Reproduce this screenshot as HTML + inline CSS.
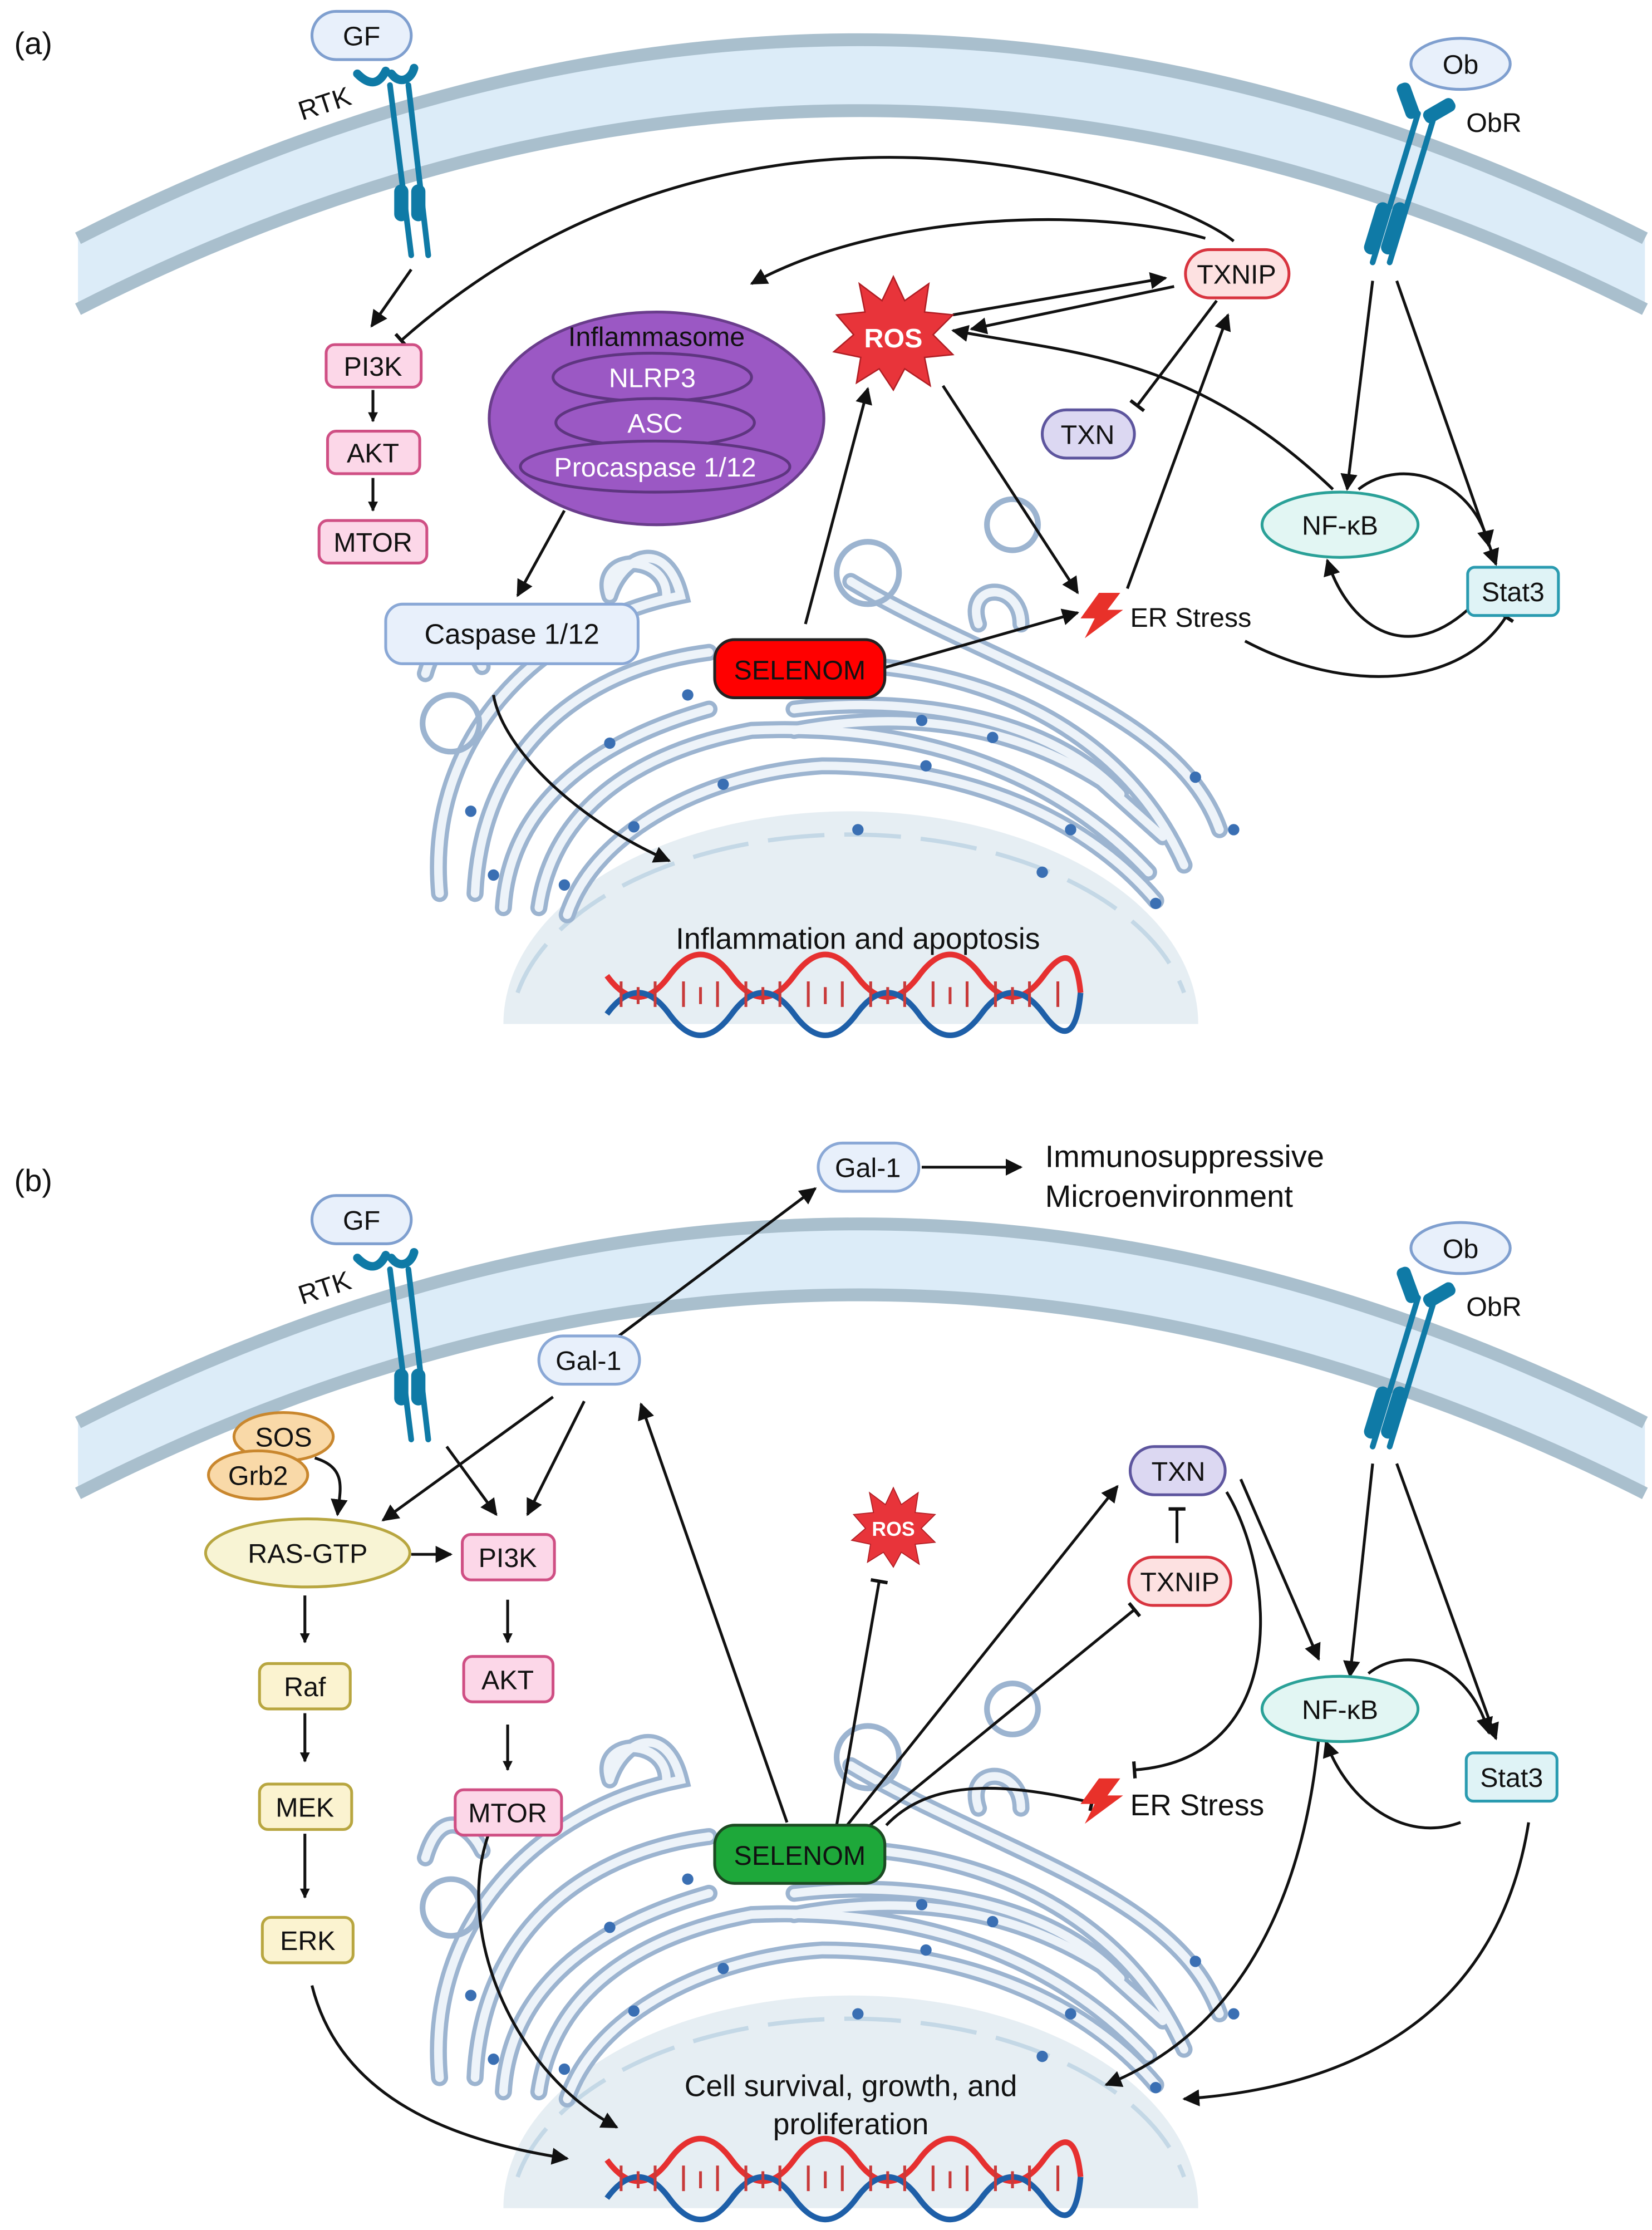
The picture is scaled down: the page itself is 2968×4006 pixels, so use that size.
<!DOCTYPE html>
<html><head><meta charset="utf-8"><style>
html,body{margin:0;padding:0;background:#fff}
svg{display:block}
text{font-family:"Liberation Sans",sans-serif;fill:#111}
</style></head><body>
<svg width="2968" height="4006" viewBox="0 0 1165 1572.4" xmlns="http://www.w3.org/2000/svg">
<defs>
<marker id="ar" viewBox="0 0 10 10" refX="9" refY="5" markerWidth="7" markerHeight="7" orient="auto-start-reverse" markerUnits="userSpaceOnUse"><path d="M0,0 L10,5 L0,10 z" fill="#111"/></marker>
<marker id="ar2" viewBox="0 0 10 10" refX="9" refY="5" markerWidth="12" markerHeight="12" orient="auto" markerUnits="userSpaceOnUse"><path d="M0,0 L10,5 L0,10 z" fill="#111"/></marker>
<marker id="tb" viewBox="0 0 10 10" refX="5" refY="5" markerWidth="12" markerHeight="12" orient="auto" markerUnits="userSpaceOnUse"><path d="M5,0 L5,10" stroke="#111" stroke-width="2"/></marker>
<g id="cell">
 <path d="M55,168 Q605,-112 1160,168 L1160,218 Q605,-62 55,218 Z" fill="#dcecf8"/>
 <path d="M55,168 Q605,-112 1160,168" fill="none" stroke="#a9bfcd" stroke-width="9"/>
 <path d="M55,218 Q605,-62 1160,218" fill="none" stroke="#a9bfcd" stroke-width="9"/>
 <path d="M355,722 A245,150 0 0 1 845,722 Z" fill="#e6eef3"/>
 <path d="M365,700 A240,140 0 0 1 835,700" fill="none" stroke="#c4d8e6" stroke-width="3" stroke-dasharray="40,14"/>
 <g fill="none" stroke-linecap="round">
  <g stroke="#9cb4d0" stroke-width="12">
   <path d="M310,630 C300,520 380,440 480,420 C470,380 440,390 430,420 M600,410 C700,470 830,500 860,585"/>
   <path d="M335,630 C340,520 420,470 500,460 M620,470 C720,480 800,530 835,610"/>
   <path d="M355,640 C360,560 430,520 500,500 M560,500 C640,490 740,505 790,560"/>
   <path d="M380,640 C390,570 450,530 530,515 C640,510 740,540 810,615"/>
   <path d="M400,645 C420,585 500,545 580,540 C670,540 760,570 815,635"/>
   <path d="M560,515 C640,500 720,510 790,560 M770,545 L820,590"/>
   <path d="M430,420 C420,390 470,390 470,420 M690,440 C680,410 720,410 720,440"/>
   <path d="M300,475 C310,440 330,450 340,470"/>
  </g>
  <g stroke="#edf3f9" stroke-width="6">
   <path d="M310,630 C300,520 380,440 480,420 C470,380 440,390 430,420 M600,410 C700,470 830,500 860,585"/>
   <path d="M335,630 C340,520 420,470 500,460 M620,470 C720,480 800,530 835,610"/>
   <path d="M355,640 C360,560 430,520 500,500 M560,500 C640,490 740,505 790,560"/>
   <path d="M380,640 C390,570 450,530 530,515 C640,510 740,540 810,615"/>
   <path d="M400,645 C420,585 500,545 580,540 C670,540 760,570 815,635"/>
   <path d="M560,515 C640,500 720,510 790,560 M770,545 L820,590"/>
   <path d="M430,420 C420,390 470,390 470,420 M690,440 C680,410 720,410 720,440"/>
   <path d="M300,475 C310,440 330,450 340,470"/>
  </g>
  <g stroke="#9cb4d0" stroke-width="4"><circle cx="318" cy="510" r="20"/><circle cx="612" cy="404" r="22"/><circle cx="714" cy="370" r="18"/></g>
 </g>
 <g fill="#3a6fb3"><circle cx="485" cy="490" r="4"/><circle cx="510" cy="553" r="4"/><circle cx="447" cy="583" r="4"/><circle cx="430" cy="524" r="4"/><circle cx="398" cy="624" r="4"/><circle cx="348" cy="617" r="4"/><circle cx="605" cy="585" r="4"/><circle cx="653" cy="540" r="4"/><circle cx="700" cy="520" r="4"/><circle cx="735" cy="615" r="4"/><circle cx="755" cy="585" r="4"/><circle cx="843" cy="548" r="4"/><circle cx="870" cy="585" r="4"/><circle cx="815" cy="637" r="4"/><circle cx="332" cy="572" r="4"/><circle cx="650" cy="508" r="4"/></g>
 <g id="dna">
  <path d="M428,688 Q450,718 472,688 T516,688 T560,688 T604,688 T648,688 T692,688 T736,688 T762,700" fill="none" stroke="#e63030" stroke-width="4"/>
  <path d="M428,715 Q450,685 472,715 T516,715 T560,715 T604,715 T648,715 T692,715 T736,715 T762,700" fill="none" stroke="#1e5fa8" stroke-width="4"/>
  <path d="M438,692v18M450,696v12M462,692v18M482,692v18M494,696v12M506,692v18M526,692v18M538,696v12M550,692v18M570,692v18M582,696v12M594,692v18M614,692v18M626,696v12M638,692v18M658,692v18M670,696v12M682,692v18M702,692v18M714,696v12M726,692v18M746,692v18" stroke="#c83a3a" stroke-width="2"/>
 </g>
 <g id="rtk" fill="none" stroke="#0f7aa6" stroke-linecap="round">
  <path d="M275,60 L290,180 M288,60 L302,180" stroke-width="4"/>
  <path d="M252,52 C262,62 268,58 272,50 M276,52 C282,60 290,56 292,48" stroke-width="6"/>
  <rect x="278" y="130" width="10" height="26" rx="5" fill="#0f7aa6" stroke="none"/><rect x="290" y="130" width="10" height="26" rx="5" fill="#0f7aa6" stroke="none"/>
 </g>
 <g id="obr" fill="none" stroke="#0f7aa6" stroke-linecap="round">
  <path d="M1000,80 L968,185 M1012,80 L980,185" stroke-width="4"/>
  <rect x="988" y="58" width="10" height="26" rx="4" fill="#0f7aa6" stroke="none" transform="rotate(-20 993 71)"/>
  <rect x="1010" y="66" width="10" height="24" rx="4" fill="#0f7aa6" stroke="none" transform="rotate(60 1015 78)"/>
  <rect x="966" y="142" width="10" height="38" rx="5" fill="#0f7aa6" stroke="none" transform="rotate(17 971 161)"/><rect x="978" y="142" width="10" height="38" rx="5" fill="#0f7aa6" stroke="none" transform="rotate(17 983 161)"/>
 </g>
</g>
<g id="ers"><path d="M775,418 L790,418 L781,430 L792,430 L765,450 L772,436 L762,436 Z" fill="#e8312a"/></g>
</defs>

<!-- PANEL A -->
<text x="10" y="38" font-size="22">(a)</text>
<use href="#cell"/>
<text x="213" y="85" font-size="19" transform="rotate(-18 213 85)">RTK</text>
<rect x="220" y="8" width="70" height="34" rx="17" fill="#e8f0fb" stroke="#7f9fcf" stroke-width="2"/><text x="255" y="32" font-size="19" text-anchor="middle">GF</text>
<ellipse cx="1030" cy="45" rx="35" ry="18" fill="#e8f0fb" stroke="#7f9fcf" stroke-width="2"/><text x="1030" y="52" font-size="19" text-anchor="middle">Ob</text>
<text x="1034" y="93" font-size="19">ObR</text>

<g stroke="#111" stroke-width="2" fill="none">
 <path d="M290,190 L262,230" marker-end="url(#ar2)"/>
 <path d="M870,170 C820,130 520,30 283,240" marker-end="url(#tb)"/>
 <path d="M263,275 L263,297" marker-end="url(#ar)"/>
 <path d="M263,337 L263,360" marker-end="url(#ar)"/>
 <path d="M850,168 C770,145 620,150 530,200" marker-end="url(#ar2)"/>
 <path d="M672,222 L822,196" marker-end="url(#ar2)"/>
 <path d="M828,202 L685,232" marker-end="url(#ar2)"/>
 <path d="M858,212 L802,286" marker-end="url(#tb)"/>
 <path d="M940,345 C840,250 760,250 672,233" marker-end="url(#ar2)"/>
 <path d="M398,360 L365,420" marker-end="url(#ar2)"/>
 <path d="M568,440 L612,274" marker-end="url(#ar2)"/>
 <path d="M665,272 L760,418" marker-end="url(#ar2)"/>
 <path d="M623,471 L760,432" marker-end="url(#ar2)"/>
 <path d="M795,415 L866,222" marker-end="url(#ar2)"/>
 <path d="M968,198 L950,345" marker-end="url(#ar2)"/>
 <path d="M985,198 L1055,398" marker-end="url(#ar2)"/>
 <path d="M958,345 C990,320 1040,340 1050,385" marker-end="url(#ar2)"/>
 <path d="M1035,430 C990,470 950,440 936,395" marker-end="url(#ar2)"/>
 <path d="M878,452 C950,490 1030,485 1062,435" marker-end="url(#tb)"/>
 <path d="M348,490 C355,530 410,580 472,607" marker-end="url(#ar2)"/>
</g>

<rect x="230" y="243" width="67" height="30" rx="6" fill="#fcd7e8" stroke="#cf4f84" stroke-width="2"/><text x="263" y="265" font-size="19" text-anchor="middle">PI3K</text>
<rect x="231" y="304" width="65" height="30" rx="6" fill="#fcd7e8" stroke="#cf4f84" stroke-width="2"/><text x="263" y="326" font-size="19" text-anchor="middle">AKT</text>
<rect x="225" y="367" width="76" height="30" rx="6" fill="#fcd7e8" stroke="#cf4f84" stroke-width="2"/><text x="263" y="389" font-size="19" text-anchor="middle">MTOR</text>

<ellipse cx="463" cy="295" rx="118" ry="75" fill="#9b58c4" stroke="#6a3d8c" stroke-width="2"/>
<text x="463" y="244" font-size="19" text-anchor="middle">Inflammasome</text>
<g fill="#9b58c4" stroke="#5e3580" stroke-width="2"><ellipse cx="460" cy="266" rx="70" ry="17"/><ellipse cx="462" cy="298" rx="70" ry="17"/><ellipse cx="462" cy="329" rx="95" ry="18"/></g>
<g fill="#fff" font-size="19" text-anchor="middle"><text x="460" y="273" style="fill:#fff">NLRP3</text><text x="462" y="305" style="fill:#fff">ASC</text><text x="462" y="336" style="fill:#fff">Procaspase 1/12</text></g>

<rect x="272" y="426" width="178" height="42" rx="12" fill="#e8f0fb" stroke="#8aa8d6" stroke-width="2"/><text x="361" y="454" font-size="20" text-anchor="middle">Caspase 1/12</text>

<polygon points="630,195 638,212 655,200 652,220 672,222 658,236 672,250 652,252 656,272 638,260 630,275 620,260 604,270 607,252 588,248 602,236 590,222 610,220 606,200 622,212" fill="#e8343a" stroke="#b01e24" stroke-width="1"/>
<text x="630" y="245" font-size="19" font-weight="bold" text-anchor="middle" style="fill:#fff">ROS</text>

<rect x="836" y="176" width="73" height="34" rx="17" fill="#fde1e1" stroke="#d8343f" stroke-width="2"/><text x="872" y="200" font-size="19" text-anchor="middle">TXNIP</text>
<rect x="735" y="289" width="65" height="34" rx="17" fill="#dcd8f2" stroke="#5d559e" stroke-width="2"/><text x="767" y="313" font-size="19" text-anchor="middle">TXN</text>
<ellipse cx="945" cy="370" rx="55" ry="23" fill="#e2f6f3" stroke="#2aa198" stroke-width="2"/><text x="945" y="377" font-size="19" text-anchor="middle">NF-κB</text>
<rect x="1035" y="400" width="64" height="34" rx="5" fill="#dff3f6" stroke="#2a9bb0" stroke-width="2"/><text x="1067" y="424" font-size="19" text-anchor="middle">Stat3</text>
<use href="#ers"/><text x="797" y="442" font-size="19">ER Stress</text>
<rect x="504" y="451" width="120" height="41" rx="14" fill="#ff0000" stroke="#222" stroke-width="2"/><text x="564" y="479" font-size="19" text-anchor="middle">SELENOM</text>
<text x="605" y="669" font-size="21" text-anchor="middle">Inflammation and apoptosis</text>

<!-- PANEL B -->
<text x="10" y="840" font-size="22">(b)</text>
<use href="#cell" y="835"/>
<text x="213" y="920" font-size="19" transform="rotate(-18 213 920)">RTK</text>
<rect x="220" y="843" width="70" height="34" rx="17" fill="#e8f0fb" stroke="#7f9fcf" stroke-width="2"/><text x="255" y="867" font-size="19" text-anchor="middle">GF</text>
<ellipse cx="1030" cy="880" rx="35" ry="18" fill="#e8f0fb" stroke="#7f9fcf" stroke-width="2"/><text x="1030" y="887" font-size="19" text-anchor="middle">Ob</text>
<text x="1034" y="928" font-size="19">ObR</text>

<g stroke="#111" stroke-width="2" fill="none">
 <path d="M650,823 L720,823" marker-end="url(#ar2)"/>
 <path d="M435,943 L575,838" marker-end="url(#ar2)"/>
 <path d="M555,1285 L452,990" marker-end="url(#ar2)"/>
 <path d="M390,985 L270,1072" marker-end="url(#ar2)"/>
 <path d="M412,988 L372,1068" marker-end="url(#ar2)"/>
 <path d="M315,1020 L350,1068" marker-end="url(#ar2)"/>
 <path d="M222,1028 C245,1035 240,1050 238,1068" marker-end="url(#ar2)"/>
 <path d="M290,1096 L318,1096" marker-end="url(#ar2)"/>
 <path d="M358,1128 L358,1158" marker-end="url(#ar)"/>
 <path d="M358,1216 L358,1248" marker-end="url(#ar)"/>
 <path d="M215,1125 L215,1158" marker-end="url(#ar)"/>
 <path d="M215,1208 L215,1242" marker-end="url(#ar)"/>
 <path d="M215,1293 L215,1338" marker-end="url(#ar)"/>
 <path d="M220,1400 C240,1480 320,1510 400,1522" marker-end="url(#ar2)"/>
 <path d="M345,1292 C320,1360 360,1460 435,1500" marker-end="url(#ar2)"/>
 <path d="M590,1287 L620,1115" marker-end="url(#tb)"/>
 <path d="M595,1290 L788,1048" marker-end="url(#ar2)"/>
 <path d="M610,1290 L800,1135" marker-end="url(#tb)"/>
 <path d="M830,1088 L830,1064" marker-end="url(#tb)"/>
 <path d="M865,1052 C900,1110 910,1240 800,1248" marker-end="url(#tb)"/>
 <path d="M625,1287 C660,1250 720,1260 770,1271" marker-end="url(#tb)"/>
 <path d="M875,1043 L930,1170" marker-end="url(#ar2)"/>
 <path d="M968,1032 L952,1182" marker-end="url(#ar2)"/>
 <path d="M985,1032 L1055,1226" marker-end="url(#ar2)"/>
 <path d="M965,1180 C990,1160 1035,1170 1050,1222" marker-end="url(#ar2)"/>
 <path d="M1030,1285 C990,1300 950,1270 935,1228" marker-end="url(#ar2)"/>
 <path d="M930,1225 C920,1330 880,1430 780,1470" marker-end="url(#ar2)"/>
 <path d="M1078,1285 C1060,1400 980,1470 835,1480" marker-end="url(#ar2)"/>
</g>

<rect x="577" y="806" width="71" height="34" rx="17" fill="#e8f0fb" stroke="#8aa8d6" stroke-width="2"/><text x="612" y="830" font-size="19" text-anchor="middle">Gal-1</text>
<text x="737" y="823" font-size="22">Immunosuppressive</text><text x="737" y="851" font-size="22">Microenvironment</text>
<rect x="380" y="942" width="71" height="34" rx="17" fill="#e8f0fb" stroke="#8aa8d6" stroke-width="2"/><text x="415" y="966" font-size="19" text-anchor="middle">Gal-1</text>
<ellipse cx="200" cy="1013" rx="35" ry="17" fill="#f9d9a8" stroke="#c9872e" stroke-width="2"/><text x="200" y="1020" font-size="19" text-anchor="middle">SOS</text>
<ellipse cx="182" cy="1040" rx="35" ry="17" fill="#f9d9a8" stroke="#c9872e" stroke-width="2"/><text x="182" y="1047" font-size="19" text-anchor="middle">Grb2</text>
<ellipse cx="217" cy="1095" rx="72" ry="24" fill="#f8f4d4" stroke="#b8a640" stroke-width="2"/><text x="217" y="1102" font-size="19" text-anchor="middle">RAS-GTP</text>
<rect x="326" y="1082" width="65" height="32" rx="6" fill="#fcd7e8" stroke="#cf4f84" stroke-width="2"/><text x="358" y="1105" font-size="19" text-anchor="middle">PI3K</text>
<rect x="327" y="1168" width="63" height="32" rx="6" fill="#fcd7e8" stroke="#cf4f84" stroke-width="2"/><text x="358" y="1191" font-size="19" text-anchor="middle">AKT</text>
<rect x="321" y="1262" width="75" height="32" rx="6" fill="#fcd7e8" stroke="#cf4f84" stroke-width="2"/><text x="358" y="1285" font-size="19" text-anchor="middle">MTOR</text>
<rect x="183" y="1173" width="64" height="32" rx="6" fill="#fbf3d0" stroke="#b8a640" stroke-width="2"/><text x="215" y="1196" font-size="19" text-anchor="middle">Raf</text>
<rect x="183" y="1258" width="65" height="32" rx="6" fill="#fbf3d0" stroke="#b8a640" stroke-width="2"/><text x="215" y="1281" font-size="19" text-anchor="middle">MEK</text>
<rect x="185" y="1352" width="64" height="32" rx="6" fill="#fbf3d0" stroke="#b8a640" stroke-width="2"/><text x="217" y="1375" font-size="19" text-anchor="middle">ERK</text>

<g transform="translate(630,1077) scale(0.7) translate(-630,-235)"><polygon points="630,195 638,212 655,200 652,220 672,222 658,236 672,250 652,252 656,272 638,260 630,275 620,260 604,270 607,252 588,248 602,236 590,222 610,220 606,200 622,212" fill="#e8343a" stroke="#b01e24" stroke-width="1"/></g>
<text x="630" y="1083" font-size="14" font-weight="bold" text-anchor="middle" style="fill:#fff">ROS</text>

<rect x="797" y="1020" width="67" height="34" rx="17" fill="#dcd8f2" stroke="#5d559e" stroke-width="2"/><text x="831" y="1044" font-size="19" text-anchor="middle">TXN</text>
<rect x="796" y="1098" width="72" height="34" rx="17" fill="#fde1e1" stroke="#d8343f" stroke-width="2"/><text x="832" y="1122" font-size="19" text-anchor="middle">TXNIP</text>
<ellipse cx="945" cy="1205" rx="55" ry="23" fill="#e2f6f3" stroke="#2aa198" stroke-width="2"/><text x="945" y="1212" font-size="19" text-anchor="middle">NF-κB</text>
<rect x="1034" y="1236" width="64" height="34" rx="5" fill="#dff3f6" stroke="#2a9bb0" stroke-width="2"/><text x="1066" y="1260" font-size="19" text-anchor="middle">Stat3</text>
<use href="#ers" y="836"/><text x="797" y="1280" font-size="21">ER Stress</text>
<rect x="504" y="1287" width="120" height="41" rx="14" fill="#1ea83a" stroke="#1c4a22" stroke-width="2"/><text x="564" y="1315" font-size="19" text-anchor="middle">SELENOM</text>
<text x="600" y="1478" font-size="21" text-anchor="middle">Cell survival, growth, and</text>
<text x="600" y="1505" font-size="21" text-anchor="middle">proliferation</text>
</svg>
</body></html>
